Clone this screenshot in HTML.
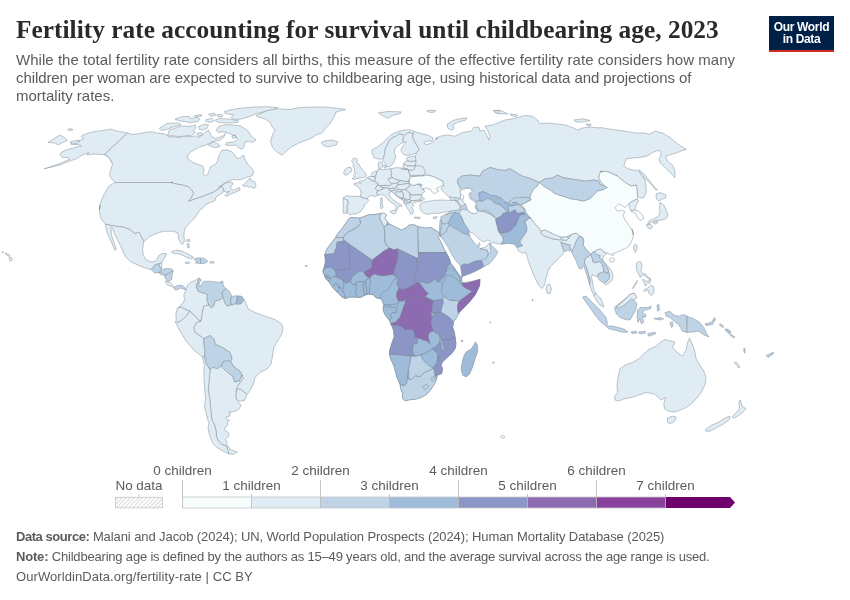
<!DOCTYPE html>
<html lang="en">
<head>
<meta charset="utf-8">
<title>Fertility rate accounting for survival until childbearing age, 2023</title>
<style>
html,body{margin:0;padding:0;background:#fff;}
body{width:850px;height:600px;position:relative;overflow:hidden;font-family:"Liberation Sans",sans-serif;color:#5b5b5b;}
.abs{position:absolute;white-space:nowrap;}
h1{position:absolute;left:16px;top:13.3px;margin:0;font-family:"Liberation Serif",serif;font-weight:bold;font-size:25.3px;line-height:32px;color:#2a2a2a;white-space:nowrap;letter-spacing:0.04px;}
.sub{left:16px;font-size:15px;line-height:18px;color:#5b5b5b;}
.logo{position:absolute;left:769px;top:16px;width:65px;height:33.5px;background:#002147;border-bottom:2.5px solid #d42b21;color:#fff;font-weight:bold;font-size:12px;line-height:12px;text-align:center;letter-spacing:-0.35px;}
.logo span{display:block;}
.foot{left:16px;font-size:13px;line-height:16px;color:#5b5b5b;}
.foot b{font-weight:bold;}
svg{position:absolute;left:0;top:0;}
.lab{font-family:"Liberation Sans",sans-serif;font-size:13.45px;fill:#5b5b5b;text-anchor:middle;}
</style>
</head>
<body>
<h1>Fertility rate accounting for survival until childbearing age, 2023</h1>
<div class="abs sub" style="top:51px;letter-spacing:0.035px">While the total fertility rate considers all births, this measure of the effective fertility rate considers how many</div>
<div class="abs sub" style="top:69px;letter-spacing:-0.09px">children per woman are expected to survive to childbearing age, using historical data and projections of</div>
<div class="abs sub" style="top:87px;">mortality rates.</div>
<div class="logo"><span style="margin-top:5px">Our World</span><span>in Data</span></div>

<svg width="850" height="600" viewBox="0 0 850 600">
<defs>
<pattern id="hatch" width="2.9" height="2.9" patternUnits="userSpaceOnUse" patternTransform="rotate(45)">
<rect width="2.9" height="2.9" fill="#fff"/><rect width="0.8" height="2.9" fill="#d2d2d2"/>
</pattern>
</defs>
<g id="map" stroke="#76828e" stroke-width="0.45" stroke-linejoin="round">
<path d="M370.6,178.2L378.8,170.6L391.8,170.0L409.4,170.0L416.5,165.3L424.7,168.8L425.9,174.1L410.6,177.1L409.4,184.1L421.2,186.5L421.2,194.7L417.6,200.0L410.6,201.8L405.9,201.8L398.8,196.5L392.9,192.4L389.4,190.0L378.8,190.0L375.3,185.3Z" fill="#e0ecf4"/>
<path d="M323.0,271.5L324.5,269.0L330.0,267.0L336.0,271.5L343.0,280.0L351.0,281.5L361.0,271.0L369.5,278.5L375.0,274.0L393.0,274.5L396.0,278.5L391.5,288.0L387.0,292.5L384.0,295.0L382.5,298.5L376.5,298.0L373.0,294.5L369.0,294.0L365.0,295.0L360.0,297.5L356.0,297.0L349.0,297.0L345.5,298.5L342.0,297.0L337.0,292.0L333.0,287.0L329.0,282.0L325.5,278.0Z" fill="#9ebcda"/>
<path d="M445.0,215.0L460.0,205.0L476.2,202.5L505.0,202.5L530.0,198.0L540.0,186.2L602.5,188.8L625.0,190.0L610.0,215.0L605.0,240.0L580.0,240.0L555.0,236.2L530.0,217.5L520.0,235.0L505.0,235.0L487.5,230.0L470.0,222.5L455.0,222.5Z" fill="#bfd3e6"/>
<path d="M127.5,133.0L117.5,131.2L110.5,129.0L106.2,130.0L97.5,131.2L90.0,132.5L83.2,135.0L81.2,136.2L83.8,139.0L78.8,140.5L71.2,142.5L70.8,144.2L78.8,144.5L81.2,145.8L75.0,147.5L67.5,149.5L61.8,152.0L60.0,155.0L62.5,157.5L67.5,157.5L70.0,159.0L60.0,163.5L44.2,168.8L60.0,165.0L71.2,160.5L76.2,159.0L81.2,155.8L88.8,152.5L87.0,155.0L93.8,154.0L101.2,154.5L104.5,154.5L108.0,156.5L110.5,160.0L112.5,163.8L114.5,165.5L113.2,161.2L110.5,157.0L107.0,155.0L104.5,154.5Z" fill="#e0ecf4"/>
<path d="M48.0,142.5L53.8,138.8L60.0,135.0L63.8,137.0L67.5,140.5L62.5,142.5L58.0,145.0L55.0,143.0ZM67.5,129.5L71.2,128.5L73.0,129.8L69.5,130.8ZM70.0,142.0L76.2,140.5L80.0,141.0L77.5,143.0L72.5,144.0Z" fill="#e0ecf4"/>
<path d="M127.5,133.0L104.5,154.5L108.0,156.5L110.5,160.0L112.5,163.8L111.2,168.8L109.5,173.8L110.5,177.5L115.0,182.5L172.5,182.5L170.9,182.3L173.4,183.5L181.8,184.9L188.4,186.9L191.8,190.2L193.5,193.5L190.1,199.4L188.4,201.6L195.1,198.9L203.5,196.2L213.5,192.2L218.5,188.9L220.2,187.2L221.5,186.2L223.5,189.0L224.0,191.2L226.2,192.2L229.5,191.5L227.0,193.2L225.0,195.5L226.0,196.5L229.0,195.0L232.0,193.5L236.0,192.0L240.0,190.0L239.5,187.5L235.5,189.5L233.0,190.0L230.5,188.5L231.0,186.0L233.0,184.0L232.5,182.5L229.0,182.0L224.0,184.0L220.0,186.5L218.5,187.8L222.0,185.0L225.0,182.5L229.0,181.0L233.0,179.5L238.0,180.0L243.0,179.0L247.0,177.0L252.0,176.0L254.0,172.0L251.9,168.5L247.8,164.3L245.2,160.1L243.6,155.1L240.2,157.8L236.9,158.5L235.2,155.1L231.9,151.8L226.9,149.8L221.9,150.1L220.2,153.4L218.5,156.8L217.7,161.0L215.2,164.3L210.2,167.1L209.3,170.2L207.7,174.3L204.8,176.2L203.1,173.5L204.3,169.3L202.6,166.0L197.6,164.3L191.8,161.8L188.4,159.3L187.3,156.0L190.1,152.6L195.1,149.3L200.1,146.8L206.0,145.1L211.0,142.6L215.2,140.9L220.2,140.1L223.5,137.6L225.5,133.4L222.7,135.9L218.5,137.6L215.2,138.4L211.8,136.7L210.2,133.4L208.5,130.1L206.0,131.7L201.8,135.1L198.5,137.6L196.0,135.9L190.1,136.7L184.3,135.9L179.3,137.6L175.9,136.7L169.2,137.1L167.6,135.1L163.4,133.7L156.7,133.1L151.7,131.7L145.0,132.6L140.0,133.4L132.5,134.5Z" fill="#e0ecf4"/>
<path d="M115.0,182.5L172.5,182.5L170.9,182.3L173.4,183.5L181.8,184.9L188.4,186.9L191.8,190.2L193.5,193.5L190.1,199.4L188.4,201.6L195.1,198.9L203.5,196.2L213.5,192.2L218.5,188.9L220.2,187.2L221.5,186.2L223.5,189.0L223.0,192.5L219.5,195.0L216.0,197.0L215.0,200.5L210.0,202.5L206.0,204.5L203.0,208.0L199.2,210.5L197.5,214.0L194.0,218.8L190.0,222.5L185.5,227.5L184.2,231.8L183.8,236.2L184.5,239.8L183.8,243.2L181.8,244.5L180.0,242.0L178.5,238.5L178.2,235.0L177.0,232.5L173.0,231.2L165.0,231.2L160.0,232.2L155.0,234.0L148.8,237.0L143.8,241.8L141.2,236.2L138.8,232.0L135.0,233.8L130.0,229.5L122.5,227.0L112.5,225.8L105.5,224.2L101.2,218.8L99.2,211.2L100.0,205.0L99.5,210.0L100.0,203.8L103.8,195.0L108.8,186.2Z" fill="#e0ecf4"/>
<path d="M105.5,224.2L112.5,225.8L122.5,227.0L130.0,229.5L135.0,233.8L138.8,232.0L141.2,236.2L143.8,241.8L142.5,248.8L143.2,255.0L146.2,260.0L151.2,262.0L155.5,261.2L157.5,258.8L158.8,255.5L162.5,253.5L166.5,253.5L165.0,257.5L162.5,261.2L161.0,264.0L158.8,263.8L155.5,264.5L151.2,269.5L145.0,268.0L137.5,265.0L130.0,261.2L125.0,256.2L122.5,250.0L118.8,242.5L115.0,235.0L112.5,228.0L111.0,227.0L111.5,235.0L114.0,242.5L116.5,249.0L115.0,250.5L111.2,241.8L108.0,235.0L106.2,229.0Z" fill="#e0ecf4"/>
<path d="M151.2,269.5L155.5,264.5L158.8,263.8L160.0,267.0L161.5,270.0L159.0,272.5L154.5,273.0Z" fill="#bfd3e6"/>
<path d="M159.0,263.8L162.0,262.5L161.5,269.0L160.0,267.0Z" fill="#e0ecf4"/>
<path d="M159.0,272.5L162.5,273.0L164.5,275.0L160.5,274.8Z" fill="#e0ecf4"/>
<path d="M161.5,270.0L165.0,268.5L171.5,268.8L173.2,270.5L170.0,272.5L166.2,275.0L164.5,275.0L162.5,273.0L159.0,272.5Z" fill="#bfd3e6"/>
<path d="M164.5,275.0L166.2,275.0L170.0,272.5L173.2,270.5L172.2,275.0L171.5,280.0L168.0,281.5L165.0,278.2Z" fill="#bfd3e6"/>
<path d="M165.0,281.0L168.0,281.5L171.5,283.8L174.0,287.5L171.5,286.5L167.5,285.0Z" fill="#e0ecf4"/>
<path d="M174.0,287.5L176.5,285.8L181.2,285.0L184.5,287.0L185.8,290.2L183.0,288.8L180.0,288.0L177.0,290.0L174.5,289.5Z" fill="#bfd3e6"/>
<path d="M171.2,252.0L176.2,250.0L182.5,251.2L188.8,254.5L193.8,257.5L191.2,259.0L185.0,256.5L178.8,253.8L173.8,253.8Z" fill="#e0ecf4"/>
<path d="M185.0,262.5L188.8,261.8L190.0,263.0L186.2,264.0Z" fill="#e0ecf4"/>
<path d="M193.8,259.5L196.2,258.0L200.2,258.0L200.8,263.5L195.0,263.0L197.5,261.2Z" fill="#bfd3e6"/>
<path d="M200.2,258.0L203.8,258.2L207.8,261.2L204.5,263.5L200.8,263.5Z" fill="#bfd3e6"/>
<path d="M210.0,261.8L213.8,261.5L214.0,263.0L210.2,263.2Z" fill="#e0ecf4"/>
<path d="M186.2,240.0L189.5,239.2L190.0,241.2L187.0,241.5ZM187.0,243.8L189.0,243.5L189.2,248.0L187.5,247.5Z" fill="#e0ecf4"/>
<path d="M221.0,281.5L223.0,281.2L223.0,283.2L221.0,283.2Z" fill="#e0ecf4"/>
<path d="M185.8,290.2L187.5,285.0L191.2,282.0L195.0,280.5L199.2,278.0L197.5,282.5L196.2,286.2L198.0,291.2L203.8,293.0L207.5,294.5L207.0,300.0L208.8,305.0L203.8,306.2L202.5,311.2L201.8,317.5L200.0,321.5L195.0,316.2L190.0,311.2L186.2,310.0L181.2,307.0L177.5,308.0L181.2,305.0L184.5,300.0L183.8,295.0Z" fill="#e0ecf4"/>
<path d="M197.5,282.5L199.2,278.0L201.5,280.0L198.0,284.5L200.0,286.5L203.8,281.2L210.0,281.2L216.2,282.0L222.5,282.5L223.8,286.2L226.2,288.8L222.0,292.5L223.0,297.5L220.0,300.0L215.0,301.2L213.8,306.2L211.2,308.0L208.8,305.0L207.0,300.0L207.5,294.5L203.8,293.0L198.0,291.2L196.2,286.2Z" fill="#bfd3e6"/>
<path d="M226.2,288.8L229.5,291.2L231.8,296.2L230.5,300.0L231.2,305.0L227.0,306.2L224.5,302.5L223.0,297.5L222.0,292.5Z" fill="#bfd3e6"/>
<path d="M231.8,296.2L237.5,295.8L237.0,300.0L236.2,303.8L231.2,305.0L230.5,300.0Z" fill="#bfd3e6"/>
<path d="M237.5,295.8L241.8,296.2L244.0,299.5L241.2,303.8L237.5,304.5L236.2,303.8L237.0,300.0Z" fill="#9ebcda"/>
<path d="M244.0,299.5L246.2,303.8L248.0,308.8L255.0,312.5L265.0,316.2L275.0,319.5L281.2,323.8L283.0,327.5L282.0,333.8L277.5,341.2L273.8,347.5L272.5,356.2L271.2,363.8L267.5,368.8L260.0,372.5L255.0,377.5L253.0,385.0L248.8,392.5L247.0,394.5L240.0,388.8L236.2,390.0L237.5,386.2L243.0,378.8L242.0,375.0L240.0,371.2L233.8,367.0L230.5,361.2L232.0,358.8L230.0,352.5L222.5,347.5L215.5,344.5L213.8,338.8L210.0,335.5L203.8,338.8L202.5,337.5L198.8,335.0L195.0,332.5L193.8,327.5L196.2,323.0L201.2,320.5L201.8,317.5L202.5,311.2L203.8,306.2L208.8,305.0L211.2,308.0L213.8,306.2L215.0,301.2L220.0,300.0L223.0,297.5L224.5,302.5L227.0,306.2L231.2,305.0L236.2,303.8L237.5,304.5L241.2,303.8Z" fill="#e0ecf4"/>
<path d="M177.5,308.0L181.2,307.0L186.2,310.0L190.0,311.2L186.5,316.2L182.5,319.5L178.8,322.5L176.2,319.5L175.8,313.8Z" fill="#e0ecf4"/>
<path d="M178.8,322.5L182.5,319.5L186.5,316.2L190.0,311.2L195.0,316.2L200.0,321.5L201.2,320.5L196.2,323.0L193.8,327.5L195.0,332.5L198.8,335.0L202.5,337.5L203.8,338.8L203.8,343.8L205.0,350.0L204.5,357.0L202.5,357.0L193.8,350.0L186.2,341.2L180.0,331.2L175.0,321.2Z" fill="#e0ecf4"/>
<path d="M203.8,338.8L210.0,335.5L213.8,338.8L215.5,344.5L222.5,347.5L230.0,352.5L232.0,358.8L230.5,361.2L223.8,361.2L221.2,366.2L217.5,368.8L212.5,367.5L210.0,370.0L206.2,363.8L204.5,357.5L205.0,350.0L203.8,343.8Z" fill="#bfd3e6"/>
<path d="M223.8,361.2L230.5,361.2L233.8,367.0L240.0,371.2L242.0,375.0L239.5,381.2L234.5,382.0L232.5,376.2L227.5,372.5L222.5,367.5L221.2,366.2Z" fill="#bfd3e6"/>
<path d="M236.2,390.0L240.0,388.8L247.0,394.5L244.5,400.5L238.8,401.2L235.8,398.0Z" fill="#e0ecf4"/>
<path d="M210.0,370.0L212.5,367.5L217.5,368.8L221.2,366.2L222.5,367.5L227.5,372.5L232.5,376.2L234.5,382.0L239.5,381.2L242.0,375.0L243.0,378.8L237.5,386.2L236.2,390.0L235.8,398.0L236.7,399.9L238.1,402.0L240.9,404.9L239.5,408.4L235.9,411.2L228.9,412.0L230.3,412.7L229.6,416.2L226.0,416.9L226.0,418.3L229.6,420.5L227.5,421.9L227.5,425.4L225.0,427.5L224.6,430.4L228.2,432.5L228.9,436.0L225.3,439.6L227.5,442.4L226.0,445.2L228.2,445.9L230.3,449.5L233.8,450.9L237.4,452.0L233.1,454.4L228.9,453.7L226.7,446.7L225.3,445.5L221.8,444.5L218.2,441.0L216.5,436.7L216.1,431.1L214.7,425.4L211.9,419.7L211.2,414.1L210.5,407.0L209.7,398.5L208.3,390.0Z" fill="#e0ecf4"/>
<path d="M202.5,357.0L204.5,357.0L206.2,363.8L210.0,370.0L208.3,390.0L209.7,398.5L210.5,407.0L211.2,414.1L211.9,419.7L214.7,425.4L216.1,431.1L216.5,436.7L218.2,441.0L221.8,444.5L225.3,445.5L226.7,446.7L228.9,453.7L222.5,450.9L217.5,448.1L213.3,443.8L210.5,438.2L208.8,432.5L208.0,426.8L209.0,422.6L207.6,419.7L206.2,412.7L204.4,407.0L205.5,398.5L204.8,390.0L203.8,375.0L204.2,365.0Z" fill="#e0ecf4"/>
<path d="M159.2,128.4L166.7,123.4L179.3,123.0L180.9,125.0L173.4,126.7L165.1,130.1L160.9,130.1ZM167.6,135.9L169.2,130.1L174.2,128.4L181.8,125.9L190.1,126.4L195.1,125.0L196.0,127.6L193.5,130.1L195.1,132.6L191.8,135.1L185.1,135.9L178.4,136.7L173.4,135.9ZM198.5,126.7L204.3,124.2L208.5,125.0L206.8,128.4L202.6,130.1L199.3,129.2ZM196.8,133.4L201.8,132.6L202.6,135.1L198.5,136.4ZM175.1,119.2L181.8,116.7L189.3,116.4L190.1,118.4L196.8,117.5L200.1,119.2L197.6,121.7L190.1,122.5L185.1,121.7L180.1,120.9ZM194.3,115.9L201.0,114.2L201.8,115.9L196.0,117.0ZM205.2,120.0L211.8,118.4L214.3,120.9L210.2,122.5L206.0,121.7ZM215.2,120.0L219.4,118.4L230.2,119.2L238.6,120.9L237.7,122.5L226.9,123.0L220.2,122.5L216.8,121.7ZM224.4,111.7L231.0,109.7L240.2,108.3L253.6,107.0L267.0,106.7L277.8,107.5L272.0,110.0L263.6,111.7L255.3,114.2L246.9,117.5L240.2,119.2L235.2,119.7L231.0,117.5L233.6,115.0L228.5,114.2L225.2,113.4ZM208.5,114.2L214.3,113.0L216.0,115.0L211.0,116.4ZM216.8,115.0L221.9,114.2L222.7,116.4L218.5,117.0ZM216.0,130.1L218.5,126.7L225.2,124.7L233.6,125.0L240.2,125.9L244.4,128.4L248.6,131.7L251.1,135.9L256.1,140.1L251.9,142.6L248.6,140.9L245.2,141.8L244.4,145.9L241.9,149.3L238.6,147.6L236.1,145.1L230.2,145.6L225.2,144.8L226.9,142.6L233.6,142.1L237.7,139.2L235.2,135.9L231.0,134.2L226.9,132.6L221.9,131.7L218.5,132.6ZM208.5,145.1L213.5,141.8L218.5,144.3L220.2,146.4L216.0,147.6L211.8,146.8ZM231.9,135.9L235.2,135.1L236.1,137.6L232.7,138.4ZM242.5,185.5L245.5,183.0L249.0,179.0L250.5,178.0L251.0,180.5L254.5,181.5L256.0,185.0L254.5,188.5L252.5,187.5L250.0,186.5L249.0,187.5L247.0,186.0L244.5,186.5Z" fill="#e0ecf4"/>
<path d="M256.2,115.5L267.5,110.5L277.5,108.8L290.0,109.5L300.0,107.5L312.5,107.0L325.0,107.0L335.0,108.0L345.5,109.5L336.2,112.0L333.8,117.5L330.0,123.8L325.0,128.8L322.5,132.5L316.2,135.0L310.0,138.8L300.0,142.5L292.5,146.2L286.2,151.2L282.0,155.2L277.5,152.5L272.5,147.5L270.5,141.2L272.5,135.0L275.0,130.0L272.5,127.5L270.0,122.5L265.0,118.8L258.0,117.0Z" fill="#e0ecf4"/>
<path d="M321.2,142.5L325.0,140.8L332.5,140.0L338.0,142.0L336.2,145.0L328.8,146.8L323.8,145.8Z" fill="#e0ecf4"/>
<path d="M378.6,112.8L388.0,111.5L401.2,111.9L400.2,113.8L394.6,114.7L390.8,116.6L388.0,118.5L384.2,116.6L380.5,114.7ZM447.3,124.1L452.9,120.4L460.5,118.5L467.1,117.9L465.2,120.4L457.6,122.2L452.9,125.1L453.9,128.8L451.1,130.3L447.7,127.9ZM426.6,110.9L431.3,110.2L436.0,110.8L434.1,112.3L429.4,112.3ZM493.4,110.9L500.0,110.0L500.0,113.8L496.2,113.0Z" fill="#e0ecf4"/>
<path d="M378.2,159.1L374.1,157.9L371.8,152.6L372.4,149.7L377.6,146.8L382.9,142.6L387.6,137.9L391.8,134.4L396.5,132.1L402.4,130.3L408.2,129.7L412.4,130.3L414.7,132.1L412.9,133.8L410.6,132.6L407.6,132.6L405.3,135.0L401.8,134.4L398.8,133.8L397.6,135.6L392.9,137.4L389.4,140.3L387.6,144.4L385.3,148.5L384.7,153.8L383.5,157.4L381.8,159.1Z" fill="#e0ecf4"/>
<path d="M383.5,157.4L384.7,153.8L385.3,148.5L387.6,144.4L389.4,140.3L392.9,137.4L397.6,135.6L398.8,133.8L401.8,134.4L403.5,136.8L402.9,140.3L404.7,142.3L401.2,143.2L398.2,145.6L395.3,148.5L394.1,152.6L395.9,156.2L394.7,160.3L392.4,164.4L389.4,166.8L386.5,166.2L384.7,162.6L382.9,160.3Z" fill="#e0ecf4"/>
<path d="M405.3,135.0L407.6,132.6L410.6,132.6L412.9,133.8L412.4,136.8L414.1,140.9L416.5,145.0L419.4,149.1L416.5,152.6L412.9,154.4L407.6,155.6L403.5,154.4L401.2,151.5L401.2,148.5L404.1,144.4L406.1,142.3L404.7,142.3L402.9,140.3L403.5,136.8Z" fill="#e0ecf4"/>
<path d="M406.5,157.9L410.0,156.8L415.3,156.4L416.5,159.1L415.3,161.1L410.6,161.5L407.1,160.9Z" fill="#e0ecf4"/>
<path d="M403.5,163.8L405.3,161.5L407.1,160.9L410.6,161.5L415.3,161.1L417.6,163.8L415.3,165.6L410.6,166.2L406.5,165.6Z" fill="#e0ecf4"/>
<path d="M402.9,166.8L403.5,163.8L406.5,165.6L410.6,166.2L415.3,165.6L414.7,168.5L412.4,170.3L408.2,170.3L405.3,168.5Z" fill="#e0ecf4"/>
<path d="M343.5,172.9L344.7,170.0L347.1,167.6L350.6,167.1L351.8,169.4L351.2,171.8L348.2,174.1L345.3,175.3Z" fill="#e0ecf4"/>
<path d="M351.8,160.0L353.5,158.2L356.5,158.5L357.6,160.6L356.5,162.4L358.8,164.1L360.6,167.6L362.9,170.0L365.3,172.9L366.5,175.3L365.3,177.1L362.4,177.6L358.8,178.2L354.7,179.2L351.8,178.8L354.7,177.1L353.5,175.3L355.9,173.5L354.1,172.4L354.7,168.8L352.9,166.5L353.5,163.5L351.8,161.8Z" fill="#e0ecf4"/>
<path d="M353.5,184.1L357.6,182.4L360.6,183.5L359.4,181.2L363.5,180.6L367.6,177.6L369.4,178.8L372.4,180.8L375.3,181.8L378.2,183.5L376.5,186.5L375.3,188.8L377.6,190.6L376.5,192.9L377.9,195.3L374.7,196.5L371.2,195.3L368.2,197.1L367.6,198.8L363.5,198.2L360.0,196.5L361.2,192.4L359.4,188.2L356.5,185.9ZM380.6,198.2L382.1,197.6L382.4,201.8L381.2,202.9L380.6,200.6Z" fill="#e0ecf4"/>
<path d="M343.5,197.6L345.9,195.9L351.8,196.2L360.0,196.5L363.5,198.2L367.6,198.8L368.8,200.6L365.3,204.1L363.5,207.6L361.2,211.2L357.6,213.5L352.9,214.1L350.0,214.7L348.2,213.5L346.5,212.9L347.1,210.0L347.1,206.5L348.2,202.9L347.6,200.0L345.3,199.4Z" fill="#e0ecf4"/>
<path d="M343.5,197.6L345.3,199.4L347.6,200.0L348.2,202.9L347.1,206.5L347.1,210.0L346.5,212.9L343.5,213.5L342.9,210.0L343.5,205.3L342.9,201.8Z" fill="#e0ecf4"/>
<path d="M371.2,175.3L372.4,172.4L375.9,171.2L377.1,171.8L375.9,175.3L374.1,176.5L372.4,176.5Z" fill="#e0ecf4"/>
<path d="M367.6,177.6L369.4,176.5L372.4,176.5L374.1,176.5L375.3,178.8L374.7,181.2L372.4,180.8L369.4,178.8Z" fill="#e0ecf4"/>
<path d="M377.1,171.8L377.6,169.4L380.6,168.8L381.8,170.0L385.3,169.4L390.6,168.8L391.8,172.9L391.2,175.3L392.4,177.6L388.2,178.8L389.4,181.2L391.8,184.1L389.4,185.9L385.3,185.3L380.6,185.9L378.2,185.3L378.2,183.5L375.3,181.8L374.7,181.2L375.3,178.8L375.9,175.3Z" fill="#e0ecf4"/>
<path d="M378.2,162.9L380.6,161.2L382.4,162.4L382.9,165.3L381.8,167.6L380.6,168.8L378.8,168.2L378.2,165.3ZM383.5,165.9L385.9,165.3L386.5,167.6L384.5,168.2Z" fill="#e0ecf4"/>
<path d="M390.6,168.8L396.5,167.6L402.9,168.2L408.2,169.4L409.4,173.5L410.6,177.1L408.8,180.6L405.9,181.8L401.8,180.8L397.6,180.0L395.3,179.2L392.4,177.6L391.2,175.3L391.8,172.9Z" fill="#e0ecf4"/>
<path d="M388.2,178.8L392.4,177.6L395.3,179.2L397.6,180.0L400.0,181.2L397.6,182.9L393.5,183.5L391.8,184.1L389.4,181.2Z" fill="#e0ecf4"/>
<path d="M397.6,182.9L400.0,181.2L401.8,180.8L405.9,181.8L408.8,181.2L408.2,183.5L404.1,184.1L400.0,184.7L397.6,184.7Z" fill="#e0ecf4"/>
<path d="M380.6,185.9L385.3,185.3L389.4,185.9L391.8,184.1L393.5,183.5L397.6,182.9L397.6,184.7L396.5,187.1L394.1,188.2L389.4,188.8L385.9,187.6L382.9,187.6L380.6,187.1Z" fill="#e0ecf4"/>
<path d="M376.5,186.5L378.2,185.3L380.6,185.9L380.6,187.1L382.9,187.6L382.4,189.4L379.4,190.6L377.6,190.6L375.3,188.8Z" fill="#e0ecf4"/>
<path d="M396.5,187.1L397.6,184.7L400.0,184.7L404.1,184.1L408.2,183.5L410.0,184.7L408.2,187.6L405.3,189.4L401.2,190.0L398.2,189.4Z" fill="#e0ecf4"/>
<path d="M389.4,188.8L394.1,188.2L394.7,190.0L391.8,191.2L389.4,190.6Z" fill="#e0ecf4"/>
<path d="M391.8,191.2L394.7,190.0L398.2,189.4L401.2,190.0L402.4,191.8L398.8,192.1L395.9,191.8L395.3,193.5L397.6,195.9L400.0,197.6L402.9,200.0L398.8,197.6L395.3,195.3L392.9,192.9Z" fill="#e0ecf4"/>
<path d="M395.9,191.8L398.8,192.1L402.4,191.8L403.5,194.1L402.9,196.5L401.8,198.2L400.0,197.6L397.6,195.9L395.3,193.5Z" fill="#e0ecf4"/>
<path d="M401.2,190.0L405.3,189.4L407.6,191.2L410.0,192.9L409.4,195.3L410.6,197.1L409.4,199.4L407.6,200.0L405.9,199.4L404.1,198.2L403.5,196.5L403.5,194.1L402.4,191.8Z" fill="#e0ecf4"/>
<path d="M401.8,198.2L404.1,198.2L405.9,199.4L407.6,200.0L409.4,199.4L411.2,200.6L410.6,202.4L408.2,203.5L406.5,202.9L405.9,205.3L404.1,203.5L403.5,201.2L402.9,200.0Z" fill="#e0ecf4"/>
<path d="M408.2,187.6L410.0,184.7L414.1,185.3L418.2,184.1L421.2,185.9L422.4,188.8L424.1,190.0L424.7,191.8L422.4,192.9L421.8,195.3L417.6,194.7L413.5,195.3L410.6,194.7L410.0,192.9L407.6,191.2L405.3,189.4Z" fill="#e0ecf4"/>
<path d="M418.2,184.1L420.6,184.7L422.9,187.6L424.1,190.0L422.4,188.8L421.2,185.9Z" fill="#e0ecf4"/>
<path d="M410.6,194.7L413.5,195.3L417.6,194.7L421.8,195.3L421.2,198.2L419.4,200.0L415.3,200.6L412.4,200.6L411.2,200.6L409.4,199.4L410.6,197.1Z" fill="#e0ecf4"/>
<path d="M405.9,205.3L406.5,202.9L408.2,203.5L410.6,202.4L411.2,200.6L415.3,200.6L419.4,200.0L420.6,201.2L417.6,201.8L414.7,202.4L412.4,203.5L413.5,205.9L411.8,207.6L413.5,210.0L412.9,213.5L410.6,214.1L409.4,211.2L407.6,208.8L406.5,207.1ZM414.1,217.1L420.0,217.3L420.0,218.5L414.7,218.2Z" fill="#e0ecf4"/>
<path d="M377.9,195.3L376.5,192.9L377.6,190.6L379.4,190.6L382.4,189.4L385.9,187.6L389.4,188.8L389.4,190.6L391.8,191.2L390.6,192.4L388.8,193.5L390.0,196.5L392.9,199.4L396.5,202.4L400.0,204.1L402.4,205.9L401.2,206.5L398.8,205.9L398.2,208.2L396.5,210.6L395.3,209.4L396.2,207.1L394.7,204.7L391.8,202.9L388.8,200.6L386.5,197.6L384.1,195.3L380.6,194.7ZM390.0,211.2L395.3,210.0L396.5,211.2L394.7,214.1L391.8,213.5ZM380.4,203.5L382.4,203.2L382.9,207.6L381.2,208.8L380.4,206.5Z" fill="#e0ecf4"/>
<path d="M401.2,168.8L402.9,168.2L408.2,169.4L404.1,169.8Z" fill="#e0ecf4"/>
<path d="M408.2,169.4L409.4,170.6L412.4,170.2L414.7,168.6L415.3,165.5L417.6,164.7L421.2,165.3L424.1,167.6L426.5,171.8L425.9,174.1L422.4,175.3L416.5,175.3L410.6,175.6L409.4,173.5Z" fill="#e0ecf4"/>
<path d="M409.3,182.5L410.0,176.8L422.8,175.9L425.6,174.9L432.2,175.9L437.9,178.7L443.2,181.5L443.5,185.3L438.8,187.2L436.0,189.1L438.8,190.9L434.1,193.8L431.3,190.9L430.4,189.1L425.6,188.1L422.8,189.1L420.9,187.2L421.9,184.4L418.1,183.8L414.4,185.3L410.6,184.9Z" fill="#f7fcfd"/>
<path d="M419.4,201.3L421.9,197.5L424.7,198.5L422.8,200.4ZM420.0,204.1L422.8,202.2L428.5,201.3L434.1,200.4L441.6,200.0L449.2,200.4L454.8,200.0L458.6,202.2L460.5,206.0L459.5,209.8L452.9,210.7L447.3,211.6L442.6,212.6L437.9,213.5L432.2,213.2L427.5,214.5L422.8,212.6L420.0,208.8Z" fill="#e0ecf4"/>
<path d="M433.2,217.3L436.9,216.4L436.4,218.2L433.7,218.8Z" fill="#e0ecf4"/>
<path d="M350.6,217.5L359.8,218.0L368.1,215.0L376.5,214.2L384.0,213.0L386.5,215.0L384.8,218.4L387.3,221.7L389.8,224.2L394.8,226.7L401.5,230.1L406.5,227.6L409.0,225.0L414.1,224.7L418.2,226.7L424.9,228.1L431.6,227.6L437.4,231.7L440.0,232.9L438.4,237.6L441.5,242.9L444.0,248.9L446.1,252.6L450.0,260.0L450.5,263.0L453.0,266.0L456.5,271.0L460.0,276.0L462.0,277.5L460.9,281.9L465.1,282.7L473.4,281.0L480.1,279.4L479.3,286.0L475.9,293.6L475.2,295.0L470.2,300.9L464.4,306.7L458.5,313.4L456.0,318.4L453.5,321.8L452.7,327.6L454.3,331.8L455.2,337.6L456.0,343.5L455.2,348.5L451.8,353.5L446.8,357.7L442.6,361.9L441.0,365.2L442.6,368.5L441.8,373.6L437.6,375.1L436.5,379.7L434.3,384.2L431.0,389.3L426.8,394.3L420.9,397.6L415.1,399.3L409.2,399.8L405.1,401.0L402.6,398.4L402.6,393.4L400.9,389.3L400.0,384.2L396.7,376.7L394.2,366.7L390.9,359.2L389.2,354.2L389.7,350.2L391.7,343.5L394.2,336.8L393.4,330.1L391.7,325.4L389.2,320.1L385.8,315.9L383.3,310.9L383.3,306.7L383.3,303.4L381.7,300.0L380.0,296.7L384.0,302.0L382.5,298.5L376.5,298.0L373.0,294.5L369.0,294.0L365.0,295.0L360.0,297.5L356.0,297.0L349.0,297.0L345.5,298.5L342.0,297.0L337.0,292.0L333.0,287.0L329.0,282.0L325.5,278.0L323.0,271.5L325.5,261.8L324.7,254.6L326.4,250.1L329.7,245.1L333.0,240.9L335.5,237.6L338.0,233.4L342.2,228.4L345.6,223.4L348.9,218.7Z" fill="#9ebcda"/>
<path d="M350.6,217.5L359.8,218.0L360.6,223.4L358.1,226.7L353.9,229.2L348.9,231.7L344.7,235.1L343.4,237.6L335.5,237.6L338.0,233.4L342.2,228.4L345.6,223.4L348.9,218.7Z" fill="#bfd3e6"/>
<path d="M335.5,237.6L343.4,237.6L343.4,241.4L337.2,242.1L336.4,247.6L333.9,253.8L324.7,254.6L326.4,250.1L329.7,245.1L333.0,240.9Z" fill="#bfd3e6"/>
<path d="M324.7,254.6L333.9,253.8L336.4,247.6L337.2,242.1L343.4,241.4L343.4,239.2L348.9,243.8L349.4,255.1L350.1,269.3L336.4,270.2L335.5,271.5L333.0,269.0L330.0,267.0L327.0,267.5L324.5,269.0L323.0,271.5L325.5,261.8Z" fill="#8c96c6"/>
<path d="M348.9,243.8L372.3,260.1L371.8,267.6L364.0,272.5L361.0,271.0L358.0,272.0L354.0,275.0L351.5,278.0L350.5,281.5L348.0,282.5L345.5,283.0L343.0,280.0L339.5,278.5L336.5,277.0L335.5,276.5L336.0,274.5L335.5,271.5L336.4,270.2L350.1,269.3L349.4,255.1Z" fill="#8c96c6"/>
<path d="M359.8,218.0L368.1,215.0L376.5,214.2L380.6,213.4L379.8,218.4L382.3,223.4L384.0,226.7L384.8,232.6L384.8,240.9L386.5,245.1L389.8,248.1L384.0,250.9L372.3,260.1L348.9,243.8L343.4,239.2L343.4,237.6L344.7,235.1L348.9,231.7L353.9,229.2L358.1,226.7L360.6,223.4Z" fill="#bfd3e6"/>
<path d="M380.6,213.4L384.0,213.0L386.5,215.0L384.8,218.4L387.3,221.7L386.5,225.0L384.0,226.7L382.3,223.4L379.8,218.4Z" fill="#e0ecf4"/>
<path d="M384.0,226.7L386.5,225.0L389.8,224.2L394.8,226.7L401.5,230.1L406.5,227.6L409.0,225.0L414.1,224.7L418.2,226.7L417.9,230.1L418.2,255.1L419.1,257.6L416.6,258.1L397.4,248.8L394.0,250.1L389.8,248.1L386.5,245.1L384.8,240.9L384.8,232.6Z" fill="#bfd3e6"/>
<path d="M418.2,226.7L424.9,228.1L431.6,227.6L434.9,230.1L437.4,231.7L440.0,232.9L438.9,236.1L438.4,237.6L441.5,242.9L444.0,248.9L446.1,252.6L418.6,252.6L417.9,230.1Z" fill="#bfd3e6"/>
<path d="M372.3,260.1L384.0,250.9L389.8,248.1L394.0,250.1L397.4,248.8L398.2,255.1L397.4,261.8L394.8,268.5L394.0,273.5L395.5,276.5L393.0,274.5L389.0,275.0L384.0,276.0L379.0,275.5L375.0,274.0L372.0,275.5L369.5,278.5L368.5,277.5L365.5,275.5L364.0,272.5L371.8,267.6Z" fill="#8c6bb1"/>
<path d="M397.4,248.8L416.6,258.1L417.4,271.0L414.9,275.2L414.1,280.2L416.6,282.7L412.4,285.2L408.2,287.7L403.2,289.4L399.0,288.5L396.5,283.5L398.2,279.3L395.7,275.2L394.0,273.5L394.8,268.5L397.4,261.8L398.2,255.1Z" fill="#8c96c6"/>
<path d="M418.6,252.6L446.1,252.6L447.0,253.9L450.0,260.0L450.5,263.0L447.5,266.8L445.8,271.8L444.1,276.8L440.8,279.3L438.3,282.7L434.9,279.3L431.6,281.8L426.6,283.5L422.4,281.8L419.1,282.7L416.6,282.7L414.1,280.2L414.9,275.2L417.4,271.0L416.6,258.1L419.1,257.6Z" fill="#8c96c6"/>
<path d="M323.0,271.5L324.5,269.0L327.0,267.5L330.0,267.0L333.0,269.0L335.5,271.5L336.0,274.5L335.5,276.5L331.0,277.5L326.0,277.5L325.0,276.5L329.0,275.5L325.5,275.0L324.0,274.0Z" fill="#9ebcda"/>
<path d="M325.0,277.5L329.0,277.8L330.5,279.5L328.5,280.5L326.5,279.5Z" fill="#9ebcda"/>
<path d="M329.0,277.8L335.5,276.5L336.5,277.0L339.5,278.5L343.0,280.0L344.2,284.0L343.5,287.0L342.5,289.5L341.0,288.0L339.5,285.5L337.5,284.5L335.5,283.5L334.0,285.0L332.5,287.5L330.5,284.5L328.5,280.5L330.5,279.5Z" fill="#9ebcda"/>
<path d="M332.5,287.5L334.0,285.0L335.5,283.5L337.5,284.5L338.5,287.0L339.5,288.5L337.0,292.0L334.5,290.0Z" fill="#9ebcda"/>
<path d="M337.0,292.0L339.5,288.5L338.5,287.0L341.0,288.0L342.5,289.5L344.2,293.5L345.2,297.5L345.5,298.5L342.0,297.0Z" fill="#9ebcda"/>
<path d="M343.0,280.0L345.5,283.0L348.0,282.5L350.5,281.5L352.0,284.0L356.0,284.5L356.5,288.0L355.5,292.0L356.5,297.0L349.0,297.0L345.5,298.5L345.2,297.5L344.2,293.5L342.5,289.5L343.5,287.0L344.2,284.0Z" fill="#9ebcda"/>
<path d="M350.5,281.5L351.5,278.0L354.0,275.0L358.0,272.0L361.0,271.0L364.0,272.5L365.5,275.5L368.5,277.5L367.0,279.5L364.5,281.0L362.0,281.5L356.5,281.8L356.0,284.5L352.0,284.0Z" fill="#9ebcda"/>
<path d="M356.0,284.5L356.5,281.8L362.0,281.5L363.5,282.5L363.0,287.0L364.2,292.0L365.0,295.0L360.0,297.5L356.5,297.0L355.5,292.0L356.5,288.0Z" fill="#9ebcda"/>
<path d="M363.5,282.5L365.5,282.0L365.8,285.0L366.5,289.0L367.0,294.0L365.0,295.0L364.2,292.0L363.0,287.0Z" fill="#9ebcda"/>
<path d="M365.5,282.0L367.0,279.5L369.5,278.5L370.5,280.5L370.0,285.0L369.5,289.0L369.5,293.8L367.0,294.0L366.5,289.0L365.8,285.0Z" fill="#9ebcda"/>
<path d="M369.5,278.5L372.0,275.5L375.0,274.0L379.0,275.5L384.0,276.0L389.0,275.0L393.0,274.5L395.5,276.5L396.0,278.5L393.5,283.0L391.5,288.0L390.0,291.5L387.0,292.5L384.0,295.0L382.5,298.5L376.5,298.0L373.0,294.5L369.5,293.8L369.5,289.0L370.0,285.0L370.5,280.5Z" fill="#9ebcda"/>
<path d="M380.0,296.7L383.3,291.7L387.5,290.0L390.9,285.0L393.4,280.0L396.2,279.3L395.7,275.2L398.2,279.3L396.5,283.5L399.0,288.5L396.7,292.5L396.7,296.7L398.4,300.9L400.0,300.9L398.4,303.4L390.0,305.1L385.8,305.1L383.3,303.4L381.7,300.0Z" fill="#9ebcda"/>
<path d="M399.0,288.5L403.2,289.4L408.2,287.7L412.4,285.2L416.6,282.7L419.1,282.7L421.6,285.2L424.9,290.2L428.3,293.5L425.1,296.7L419.3,297.5L413.4,298.4L408.4,297.5L405.1,300.0L401.7,301.7L398.4,300.9L396.7,296.7L396.7,292.5Z" fill="#8c6bb1"/>
<path d="M419.1,282.7L422.4,281.8L426.6,283.5L431.6,281.8L434.9,279.3L438.3,282.7L440.8,279.3L441.6,283.5L442.5,286.9L445.0,290.2L447.5,293.5L442.6,299.2L437.6,300.0L433.8,300.9L430.1,299.2L425.1,296.7L428.3,293.5L424.9,290.2L421.6,285.2Z" fill="#9ebcda"/>
<path d="M405.1,300.0L408.4,297.5L413.4,298.4L419.3,297.5L425.1,296.7L430.1,299.2L433.8,300.9L432.6,305.1L432.1,310.1L431.0,313.4L431.8,318.4L431.0,323.4L432.6,328.4L433.5,331.0L429.3,332.6L428.4,336.8L430.1,344.3L426.8,341.0L422.6,340.1L419.3,338.5L415.1,337.6L413.4,330.1L409.2,329.3L405.1,330.1L401.7,326.8L396.7,325.1L391.7,325.4L390.9,323.4L395.9,321.8L400.0,316.8L401.7,311.7L403.4,306.7L405.1,302.6Z" fill="#8c6bb1"/>
<path d="M391.7,325.4L396.7,325.1L401.7,326.8L405.1,330.1L409.2,329.3L413.4,330.1L415.1,337.6L417.6,339.3L417.1,343.5L413.4,344.3L412.6,350.2L413.4,354.3L415.9,356.0L410.1,356.0L403.4,355.2L396.7,354.3L390.0,354.3L389.7,350.2L391.7,343.5L394.2,336.8L393.4,330.1ZM390.4,322.6L392.0,321.8L392.5,324.3L390.9,324.8Z" fill="#8c96c6"/>
<path d="M390.9,323.4L389.2,320.1L391.7,317.6L390.0,315.1L392.5,312.6L395.9,312.6L396.7,308.4L398.4,303.4L400.0,300.9L401.7,301.7L405.1,300.0L405.1,302.6L403.4,306.7L401.7,311.7L400.0,316.8L395.9,321.8Z" fill="#9ebcda"/>
<path d="M383.3,306.7L385.8,305.1L390.0,305.1L390.9,307.6L395.9,307.6L396.7,308.4L395.9,312.6L392.5,312.6L390.0,315.1L391.7,317.6L389.2,320.1L385.8,315.9L383.3,310.9Z" fill="#9ebcda"/>
<path d="M385.0,304.7L389.7,304.7L389.7,306.7L385.0,307.1Z" fill="#9ebcda"/>
<path d="M433.8,300.9L437.6,300.0L442.6,299.2L443.5,302.6L441.8,307.6L441.0,312.6L436.0,312.6L431.8,312.6L432.1,310.1L432.6,305.1Z" fill="#8c96c6"/>
<path d="M442.6,299.2L443.5,296.7L446.8,297.5L451.8,300.9L456.8,300.0L459.4,299.2L457.7,305.1L457.7,310.9L459.4,313.4L456.0,318.4L453.5,321.8L449.3,317.6L444.3,314.2L441.0,312.6L441.8,307.6L443.5,302.6Z" fill="#bfd3e6"/>
<path d="M446.2,274.5L450.0,275.5L453.8,277.0L458.0,280.5L461.0,283.0L462.5,285.8L472.5,291.2L467.5,295.0L459.2,301.2L453.8,300.0L448.8,300.0L443.8,296.2L441.2,291.2L442.5,285.0L444.5,280.0Z" fill="#9ebcda"/>
<path d="M450.5,263.0L447.5,266.8L445.8,271.8L450.0,267.0L453.0,269.0L456.0,272.5L459.5,276.5L461.2,277.8L462.0,277.5L460.0,276.0L456.5,271.0L453.0,266.0L450.5,263.0Z" fill="#9ebcda"/>
<path d="M459.2,278.5L461.7,277.7L462.1,281.0L460.0,281.5Z" fill="#9ebcda"/>
<path d="M461.8,283.0L466.2,283.0L472.5,281.5L480.0,279.2L479.8,285.5L475.5,294.5L469.2,302.5L461.8,310.0L458.0,313.2L457.5,305.0L459.2,301.2L467.5,295.0L472.5,291.2L466.2,288.5L462.5,285.8Z" fill="#8c6bb1"/>
<path d="M431.5,313.4L434.3,313.1L434.8,315.4L432.1,316.4Z" fill="#9ebcda"/>
<path d="M431.8,316.8L434.3,316.4L434.3,320.1L432.1,320.9Z" fill="#8c96c6"/>
<path d="M436.0,312.6L441.0,312.6L444.3,314.2L449.3,317.6L453.5,321.8L452.7,327.6L454.3,331.8L455.2,337.6L450.2,339.3L445.2,340.1L441.8,339.3L439.3,335.1L435.1,332.6L432.6,328.4L431.0,323.4L431.8,318.4L432.6,315.9L434.8,315.4L434.3,313.1Z" fill="#8c96c6"/>
<path d="M428.4,336.8L429.3,332.6L433.5,331.0L435.1,332.6L439.3,335.1L440.1,337.6L439.3,342.6L436.8,346.0L432.6,348.5L429.3,351.0L425.1,353.5L420.9,354.3L415.9,356.0L413.4,354.3L412.6,350.2L413.4,344.3L417.1,343.5L417.6,339.3L419.3,338.5L422.6,340.1L426.8,341.0L430.1,344.3Z" fill="#9ebcda"/>
<path d="M441.8,339.3L445.2,340.1L450.2,339.3L455.2,337.6L456.0,343.5L455.2,348.5L451.8,353.5L446.8,357.7L442.6,361.9L441.0,365.2L442.6,368.5L441.8,373.6L437.6,375.1L435.1,376.7L434.3,371.7L433.5,368.4L436.8,362.5L437.6,355.8L438.5,358.5L437.6,353.5L433.5,350.2L432.6,348.5L436.8,346.0L439.3,342.6L441.0,343.5L441.5,348.5L442.6,351.8L444.3,348.5L443.1,344.3Z" fill="#8c96c6"/>
<path d="M439.3,335.1L441.8,339.3L443.1,344.3L444.3,348.5L442.6,351.8L441.5,348.5L441.0,343.5L440.1,337.6Z" fill="#9ebcda"/>
<path d="M425.1,353.5L429.3,351.0L432.6,348.5L433.5,350.2L437.6,353.5L438.5,358.5L437.6,355.8L436.8,362.5L433.5,367.5L428.4,366.7L425.1,363.4L422.6,359.2L420.9,355.0Z" fill="#9ebcda"/>
<path d="M410.9,356.3L415.9,356.3L420.9,355.0L422.6,359.2L426.8,364.2L433.5,368.4L428.4,370.9L424.3,372.6L420.1,376.7L415.1,375.9L411.7,379.2L409.2,380.1L408.4,368.4L410.1,361.7Z" fill="#bfd3e6"/>
<path d="M389.2,354.2L396.7,354.7L403.4,355.3L410.9,356.3L410.1,361.7L408.4,368.4L407.6,376.7L406.7,383.4L404.2,385.9L400.0,384.2L396.7,376.7L394.2,366.7L390.9,359.2Z" fill="#9ebcda"/>
<path d="M400.0,384.2L404.2,385.9L406.7,383.4L407.6,376.7L409.2,380.1L411.7,379.2L415.1,375.9L420.1,376.7L424.3,372.6L428.4,370.9L433.5,368.4L434.3,371.7L435.1,376.7L436.5,379.7L434.3,384.2L431.0,389.3L426.8,394.3L420.9,397.6L415.1,399.3L409.2,399.8L405.1,401.0L402.6,398.4L402.6,393.4L400.9,389.3Z" fill="#bfd3e6"/>
<path d="M422.6,386.8L426.4,384.2L428.4,386.8L424.8,390.1Z" fill="#bfd3e6"/>
<path d="M431.5,377.6L433.5,376.7L434.3,380.1L432.1,381.4Z" fill="#bfd3e6"/>
<path d="M461.9,363.5L463.5,356.8L466.0,351.8L471.0,349.3L473.6,345.2L475.6,341.8L477.7,346.0L477.7,351.8L475.2,358.5L472.7,366.9L469.4,374.4L466.0,376.9L462.7,375.2L461.0,369.4Z" fill="#9ebcda"/>
<path d="M414.4,131.6L420.9,133.5L428.5,135.4L433.2,138.2L432.2,141.1L427.5,141.1L423.8,142.4L425.6,144.8L430.4,143.5L434.1,141.1L437.9,138.2L435.0,138.8L440.0,136.2L447.5,135.0L455.0,136.2L462.5,132.5L471.2,131.2L473.8,127.5L478.8,127.0L480.0,131.2L483.8,130.0L486.2,133.8L488.8,140.0L490.0,136.2L487.5,130.0L485.0,126.2L492.5,125.0L498.8,122.5L505.0,120.0L512.5,118.8L517.5,117.5L525.0,115.5L532.5,116.2L537.5,120.0L540.0,123.8L547.5,123.0L555.0,123.8L565.0,125.0L572.5,127.5L577.5,130.0L582.5,128.0L590.0,127.0L600.0,128.0L600.0,127.5L612.5,129.5L625.0,131.2L635.0,133.0L645.0,133.0L648.8,134.5L655.0,131.2L662.5,133.0L670.0,137.5L677.5,143.8L686.2,149.5L682.5,150.5L676.2,153.0L671.2,154.5L665.5,156.2L667.5,161.2L672.5,165.0L675.0,171.2L675.0,177.5L671.2,173.8L666.2,168.8L661.2,163.8L658.8,160.0L661.2,153.8L658.8,150.0L656.2,151.2L652.5,152.5L648.8,155.0L646.2,156.2L640.0,157.5L632.5,158.0L626.2,158.8L623.8,166.2L630.0,169.5L637.5,170.5L641.2,173.8L645.0,180.0L646.2,187.5L646.2,192.5L643.8,197.5L640.0,198.0L637.5,195.5L637.0,190.0L636.2,185.0L631.2,186.2L625.0,182.5L617.5,176.2L610.0,173.0L600.0,171.2L617.5,176.2L610.0,172.5L605.0,171.2L600.0,172.5L598.8,177.5L601.2,182.5L605.0,186.2L600.0,184.5L598.8,181.2L593.8,180.0L585.0,181.2L577.5,180.0L570.0,178.8L562.5,177.5L557.5,175.0L552.5,178.0L545.0,178.8L539.2,182.5L533.8,180.0L528.8,178.0L522.5,176.2L516.2,172.5L510.0,168.8L505.0,170.5L497.5,169.5L490.0,167.5L482.5,171.2L480.0,176.2L470.0,175.0L461.2,176.2L457.5,180.0L458.0,183.8L460.0,187.5L460.5,191.2L460.5,198.5L456.7,198.1L452.9,197.7L449.2,197.0L445.4,193.8L442.6,190.9L440.7,189.1L443.5,186.2L443.2,181.5L437.9,178.7L432.2,175.9L425.6,174.9L422.8,175.9L425.6,172.1L422.8,166.5L415.3,165.5L416.2,160.8L415.3,157.1L416.2,153.3L419.1,149.5L417.2,145.8L414.4,141.1L412.5,136.4L413.4,132.6Z" fill="#e0ecf4"/>
<path d="M493.8,110.5L502.5,111.2L507.5,113.8L501.2,113.8L495.0,112.5ZM510.0,113.8L517.5,115.0L516.2,116.8L511.2,115.5ZM573.8,120.0L582.5,118.8L590.0,120.5L582.5,122.0L576.2,122.0ZM586.2,123.8L591.2,124.5L590.0,126.2L587.0,125.5ZM638.8,169.5L643.8,173.8L648.8,180.0L653.8,186.2L657.5,190.0L655.5,189.5L651.2,184.5L646.2,179.5L641.2,174.5Z" fill="#e0ecf4"/>
<path d="M449.2,197.0L452.9,197.7L456.7,198.1L460.5,198.5L463.3,200.4L465.2,204.1L462.4,206.0L460.5,206.0L458.6,202.2L454.8,200.0L451.1,200.4Z" fill="#e0ecf4"/>
<path d="M457.5,180.0L461.2,176.2L470.0,175.0L480.0,176.2L482.5,171.2L490.0,167.5L497.5,169.5L505.0,170.5L510.0,168.8L516.2,172.5L522.5,176.2L528.8,178.0L533.8,180.0L539.2,182.5L537.5,186.2L533.8,188.8L531.2,193.8L530.0,197.5L522.5,198.0L516.2,198.8L512.5,201.2L509.5,203.8L505.0,202.0L502.5,198.8L496.2,196.2L488.8,195.5L483.8,192.0L479.5,192.5L478.8,196.2L480.0,200.0L476.2,201.2L471.2,198.8L470.0,193.8L467.5,191.2L471.2,188.8L467.5,187.5L462.5,190.0L460.0,187.5L458.0,183.8Z" fill="#bfd3e6"/>
<path d="M478.5,193.0L483.0,191.5L486.5,193.0L490.0,195.0L496.0,196.0L501.0,198.0L504.0,201.5L507.5,204.0L510.0,201.5L512.0,199.5L513.0,202.2L517.0,202.5L518.0,204.0L514.0,205.5L510.0,206.5L508.5,205.5L507.5,206.5L509.0,210.0L508.5,212.2L506.0,210.5L503.0,207.0L499.0,204.5L494.0,202.5L490.0,199.0L486.0,198.5L483.0,201.5L480.0,201.0L479.5,196.5Z" fill="#9ebcda"/>
<path d="M476.0,201.5L480.0,201.0L483.0,201.5L486.0,198.5L490.0,199.0L494.0,202.5L499.0,204.5L503.0,207.0L506.0,210.5L508.5,212.2L509.5,213.0L506.0,212.5L503.0,213.5L502.0,215.5L499.0,217.5L495.5,219.0L493.0,215.0L489.0,212.0L484.0,210.0L479.0,212.0L477.5,209.0L476.0,205.0L474.5,202.5Z" fill="#bfd3e6"/>
<path d="M508.5,203.5L510.0,201.5L512.0,199.5L514.0,198.0L520.0,197.5L526.0,197.2L531.0,198.0L530.0,200.0L527.0,201.5L524.0,203.5L521.0,204.5L518.0,204.2L518.0,204.0L517.0,202.5L513.0,202.2L511.0,204.5Z" fill="#bfd3e6"/>
<path d="M508.5,205.5L510.0,206.5L514.0,205.5L518.0,204.2L521.0,206.5L524.0,209.0L524.5,212.0L524.0,212.5L520.0,213.0L516.5,213.5L516.0,211.0L514.5,210.0L512.0,211.5L509.5,213.0L509.0,210.0L507.5,206.5Z" fill="#bfd3e6"/>
<path d="M459.2,213.4L461.7,209.2L467.6,210.0L470.1,212.5L473.4,213.4L478.4,210.9L483.4,211.7L490.1,214.2L496.0,218.4L496.8,225.1L498.5,230.9L502.6,236.8L503.5,240.1L501.0,244.3L496.8,243.4L491.8,242.6L490.1,240.9L487.6,240.1L483.4,241.8L479.3,239.3L475.1,235.1L471.7,232.6L469.2,231.8L467.6,228.4L464.2,223.4L461.7,217.6Z" fill="#e0ecf4"/>
<path d="M495.5,219.0L499.0,217.5L502.0,215.5L503.0,213.5L506.0,212.5L509.5,213.0L512.0,211.5L514.5,210.0L516.0,211.0L516.5,213.5L520.0,213.0L524.0,212.5L525.5,214.0L522.0,214.5L519.0,216.0L518.5,218.5L518.0,221.0L516.5,223.0L515.5,226.0L513.0,228.0L511.0,230.5L508.0,232.0L503.0,233.0L499.0,232.5L498.0,229.5L497.5,226.0L496.2,223.0Z" fill="#8c96c6"/>
<path d="M499.0,232.5L503.0,233.0L508.0,232.0L511.0,230.5L513.0,228.0L515.5,226.0L516.5,223.0L518.0,221.0L518.5,218.5L519.0,216.0L522.0,214.5L525.5,214.0L527.5,216.0L530.0,217.5L531.0,219.0L528.5,219.5L526.0,220.0L524.5,222.5L526.0,225.0L527.5,227.0L527.0,230.0L525.5,233.0L524.0,235.5L522.0,238.0L520.0,240.0L520.2,242.6L522.7,246.0L516.8,247.6L514.3,244.3L508.5,243.4L501.0,244.3L503.5,240.1L502.6,236.8Z" fill="#9ebcda"/>
<path d="M448.4,222.6L451.7,215.9L455.0,212.5L459.2,213.4L461.7,217.6L464.2,223.4L467.6,228.4L469.2,231.8L466.7,234.3L463.4,233.8L458.4,230.1L453.4,227.6L449.2,225.1Z" fill="#9ebcda"/>
<path d="M440.8,216.7L445.0,214.7L451.7,213.4L455.0,212.5L451.7,215.9L448.4,222.6L445.0,224.2L441.7,223.4L441.0,220.1Z" fill="#bfd3e6"/>
<path d="M441.7,223.4L445.0,224.2L448.4,222.6L449.2,225.1L445.8,232.0L444.0,233.5L441.5,235.0L440.5,236.5L440.0,234.0Z" fill="#bfd3e6"/>
<path d="M440.0,220.1L441.0,220.1L441.7,223.4L440.0,234.0L440.3,236.0L439.6,234.0L439.2,232.0Z" fill="#bfd3e6"/>
<path d="M440.5,236.5L441.5,235.0L444.0,233.5L445.8,232.0L449.2,225.1L453.4,227.6L458.4,230.1L463.4,233.8L466.7,234.3L470.1,236.8L473.4,241.8L477.6,246.0L480.1,248.5L487.6,250.1L488.4,254.3L486.8,258.5L481.8,261.0L481.5,260.5L476.0,261.0L472.0,262.5L468.0,264.5L464.0,264.0L460.5,266.0L458.0,263.0L454.5,259.0L451.0,253.0L448.0,247.0L444.0,241.0Z" fill="#bfd3e6"/>
<path d="M466.7,234.3L469.2,232.6L470.1,235.9Z" fill="#bfd3e6"/>
<path d="M478.1,244.3L479.3,242.6L480.1,245.1L478.8,246.8Z" fill="#e0ecf4"/>
<path d="M460.5,266.0L464.0,264.0L468.0,264.5L472.0,262.5L476.0,261.0L481.5,260.5L484.0,266.5L480.0,269.0L474.0,272.0L468.0,274.5L462.0,276.7L461.0,270.0Z" fill="#8c96c6"/>
<path d="M481.5,260.5L486.0,258.5L488.0,255.0L489.0,252.0L488.5,249.0L489.5,246.0L490.0,242.8L492.0,246.0L496.0,249.5L498.0,252.0L495.0,257.0L492.0,261.0L489.0,264.0L484.0,266.5Z" fill="#bfd3e6"/>
<path d="M480.1,248.5L484.3,247.6L488.4,244.3L489.8,242.6L490.1,246.8L491.0,251.8L488.4,254.3L487.6,250.1Z" fill="#e0ecf4"/>
<path d="M539.2,182.5L545.0,178.8L552.5,178.0L557.5,175.0L562.5,177.5L570.0,178.8L577.5,180.0L585.0,181.2L593.8,180.0L598.8,181.2L600.0,184.5L605.0,186.2L607.5,187.5L602.5,190.0L597.5,191.2L593.8,195.0L590.0,198.8L583.8,201.2L577.5,200.0L570.0,198.8L562.5,196.2L555.0,193.8L550.0,190.0L543.8,186.2Z" fill="#bfd3e6"/>
<path d="M530.0,197.5L531.2,193.8L533.8,188.8L537.5,186.2L539.2,182.5L543.8,186.2L550.0,190.0L555.0,193.8L562.5,196.2L570.0,198.8L577.5,200.0L583.8,201.2L590.0,198.8L593.8,195.0L597.5,191.2L602.5,190.0L607.5,187.5L605.0,186.2L601.2,182.5L598.8,177.5L600.0,172.5L605.0,171.2L610.0,172.5L617.5,176.2L617.5,176.2L625.0,182.5L631.2,186.2L636.2,185.0L637.0,190.0L637.5,195.5L637.5,198.8L632.5,201.2L628.8,203.8L625.0,207.5L621.2,205.0L618.8,203.8L615.0,207.5L617.5,211.2L622.5,210.0L625.0,212.0L623.0,215.0L625.0,220.0L628.8,225.0L632.0,230.0L633.8,235.0L632.1,229.1L632.6,232.6L633.2,236.8L631.5,241.5L629.1,245.6L625.6,248.5L620.9,250.3L616.2,252.6L612.6,253.8L613.2,255.6L610.3,254.4L606.8,253.2L603.8,252.1L602.6,250.3L600.3,249.1L597.4,249.7L594.4,251.5L592.6,252.1L590.9,254.4L588.5,252.1L585.0,247.9L583.2,245.0L583.8,240.9L582.6,237.4L579.7,236.2L576.2,233.2L571.5,234.4L566.8,236.8L561.5,237.4L559.7,236.8L555.0,236.2L552.5,233.8L545.0,230.0L541.2,231.2L535.0,223.8L530.0,217.5L526.2,213.0L525.0,208.8L521.2,205.0L526.2,202.5L531.2,200.0Z" fill="#f7fcfd"/>
<path d="M609.4,259.1L612.1,257.6L614.8,259.1L613.2,261.8L610.3,262.1Z" fill="#f7fcfd"/>
<path d="M633.6,246.2L635.6,243.8L637.0,245.6L636.8,249.7L635.4,252.6L633.8,250.3Z" fill="#e0ecf4"/>
<path d="M628.8,203.8L632.5,201.2L637.5,198.8L638.8,201.2L636.2,205.0L635.0,210.0L631.2,211.2L629.5,207.5Z" fill="#e0ecf4"/>
<path d="M635.0,210.0L638.8,211.2L642.5,215.0L643.8,218.8L640.0,220.5L637.5,217.5L635.8,213.8L631.2,211.2Z" fill="#f7fcfd"/>
<path d="M656.2,193.8L660.0,192.5L666.2,195.0L665.5,198.0L661.2,199.5L658.8,201.2L656.2,198.8ZM660.0,202.5L663.8,205.0L666.2,210.0L668.0,215.0L666.2,218.8L661.2,220.0L656.2,220.5L651.2,222.5L647.5,224.5L648.8,221.2L653.8,218.8L658.8,216.2L660.0,211.2L659.5,206.2ZM646.2,225.0L650.0,224.0L652.5,226.2L651.2,229.0L648.0,228.0ZM653.8,222.0L658.0,221.5L657.0,223.8L653.8,224.0Z" fill="#e0ecf4"/>
<path d="M531.0,217.6L527.7,219.2L525.2,222.6L526.9,226.7L526.9,230.9L524.4,235.1L521.9,238.4L520.2,242.6L522.7,246.0L516.8,247.6L518.5,251.0L522.7,253.5L525.2,251.8L526.9,256.0L528.5,261.8L531.0,268.5L534.4,276.9L538.6,285.2L541.9,288.6L544.4,285.2L546.1,278.5L547.8,271.8L550.3,266.8L555.3,261.8L559.4,257.6L563.6,253.5L563.8,250.9L562.6,247.4L561.5,244.4L560.9,242.1L563.2,243.2L566.8,244.4L570.3,245.0L569.7,247.4L570.9,250.3L572.1,252.6L572.6,249.7L574.4,246.2L576.2,241.5L577.9,238.5L579.7,236.2L576.2,233.2L571.5,234.4L568.5,238.5L566.8,240.3L562.1,239.9L560.5,240.0L552.5,238.8L545.0,236.2L541.2,233.8L541.2,231.2L535.0,223.8L530.0,217.5Z" fill="#e0ecf4"/>
<path d="M541.2,231.2L545.0,230.0L552.5,233.8L561.2,237.0L560.5,240.0L552.5,238.8L545.0,236.2L541.2,233.8Z" fill="#e0ecf4"/>
<path d="M561.5,237.4L566.8,236.8L568.5,238.5L566.8,240.3L562.1,239.9Z" fill="#e0ecf4"/>
<path d="M547.0,285.0L549.5,283.8L551.5,288.8L550.0,293.8L547.0,293.0L546.0,288.8Z" fill="#e0ecf4"/>
<path d="M560.9,242.1L563.2,243.2L566.8,244.4L570.3,245.0L569.7,247.4L570.9,250.3L569.7,251.5L567.9,249.7L566.2,251.5L563.8,250.9L562.6,247.4L561.5,244.4Z" fill="#bfd3e6"/>
<path d="M579.7,236.2L582.6,237.4L583.8,240.9L583.2,245.0L585.0,247.9L588.5,252.1L590.9,254.4L589.1,256.2L586.2,257.9L584.4,260.9L585.0,264.4L586.8,267.9L587.9,271.5L589.1,276.2L590.3,280.9L589.7,285.0L588.5,280.9L586.8,275.0L585.0,269.7L583.8,265.6L581.5,269.1L579.1,268.5L577.4,264.4L575.6,259.7L573.2,255.6L572.1,252.6L572.6,249.7L574.4,246.2L576.2,241.5L577.9,238.5Z" fill="#bfd3e6"/>
<path d="M584.4,260.9L586.2,257.9L589.1,256.2L590.9,254.4L592.1,257.9L593.2,262.1L595.6,262.6L599.7,261.5L602.1,264.4L603.2,267.4L603.8,271.5L601.5,272.6L598.5,273.8L597.4,276.2L594.4,276.2L592.6,274.4L591.5,277.4L592.6,282.1L593.8,290.0L596.2,293.8L593.8,295.0L591.2,290.0L590.0,285.0L590.3,280.9L589.1,276.2L587.9,271.5L586.8,267.9L585.0,264.4Z" fill="#e0ecf4"/>
<path d="M590.9,254.4L592.6,252.1L594.4,251.5L595.6,253.8L597.9,255.0L600.3,255.6L599.7,257.9L602.1,260.3L604.4,263.2L606.8,266.8L608.5,270.3L608.5,272.6L605.6,273.2L603.8,271.5L603.2,267.4L602.1,264.4L599.7,261.5L595.6,262.6L593.2,262.1L592.1,257.9Z" fill="#bfd3e6"/>
<path d="M594.4,251.5L597.4,249.7L600.3,249.1L602.6,250.3L603.8,252.1L606.8,253.2L604.4,255.6L602.6,257.9L603.2,260.9L605.6,263.2L608.5,266.8L610.9,270.3L612.6,273.8L613.2,277.4L611.5,280.9L608.5,283.2L605.6,285.0L603.8,283.8L606.8,281.5L609.1,278.5L609.7,275.0L608.5,272.6L608.5,270.3L606.8,266.8L604.4,263.2L602.1,260.3L599.7,257.9L600.3,255.6L597.9,255.0L595.6,253.8Z" fill="#e0ecf4"/>
<path d="M597.4,276.2L598.5,273.8L601.5,272.6L603.8,271.5L605.6,273.2L608.5,272.6L609.7,275.0L609.1,278.5L606.8,281.5L603.8,282.6L600.9,281.5L598.5,279.1Z" fill="#bfd3e6"/>
<path d="M593.8,295.0L596.2,293.8L600.0,297.5L602.5,302.5L603.8,307.0L600.0,305.0L596.2,300.0Z" fill="#e0ecf4"/>
<path d="M636.5,263.0L638.5,261.5L641.0,262.0L642.0,265.0L641.5,268.5L641.0,271.5L643.0,273.5L645.5,274.0L646.5,275.5L648.5,277.5L650.0,278.0L650.5,280.0L649.0,279.0L647.0,277.5L644.5,275.5L642.0,275.0L640.5,276.0L641.0,277.5L639.5,276.5L638.5,274.0L637.0,271.0L636.2,267.5ZM642.5,279.5L644.5,280.0L646.0,281.5L648.5,281.0L650.0,279.5L651.0,281.0L649.5,283.5L648.0,282.5L646.5,284.0L645.5,286.0L644.5,284.0L643.5,281.5ZM643.5,290.5L645.5,289.0L648.0,288.0L649.5,286.5L651.0,285.0L653.0,286.0L654.0,288.5L654.0,291.5L653.0,294.0L651.5,295.5L649.5,294.0L648.5,292.0L648.0,290.0L646.0,290.5L644.5,291.5ZM632.2,288.5L634.5,285.0L636.5,281.5L637.5,280.5L637.0,282.5L635.0,285.5L633.0,288.5Z" fill="#e0ecf4"/>
<path d="M582.5,297.0L586.2,296.2L592.5,302.5L600.0,310.0L606.2,317.5L607.5,323.8L606.2,326.2L601.2,322.5L595.0,315.0L588.8,306.2L584.5,300.0ZM606.2,326.2L611.2,325.8L618.8,327.5L625.0,329.5L628.0,332.0L623.8,332.5L616.2,330.5L608.8,328.8ZM631.2,331.8L636.2,331.2L637.0,333.0L632.0,333.5ZM638.8,332.0L645.0,331.2L645.5,333.0L639.5,333.8ZM647.5,333.8L655.0,332.0L655.5,333.8L648.8,336.2ZM614.5,307.5L618.8,303.8L625.0,298.8L630.0,294.5L633.8,293.0L637.0,297.0L633.8,300.0L637.0,303.8L635.5,310.0L633.0,315.0L630.0,320.0L625.0,319.5L620.0,317.5L616.2,313.8ZM637.5,310.0L640.0,307.5L647.5,307.5L651.2,306.2L650.5,308.8L645.0,310.0L642.5,312.5L646.2,315.0L645.0,317.5L642.5,316.2L643.8,322.5L641.2,323.8L640.0,318.8L638.0,322.5L637.0,317.5ZM657.0,305.0L658.8,304.5L659.5,310.0L657.5,311.2ZM653.8,318.8L660.0,317.5L663.8,318.8L660.0,320.0ZM670.0,322.5L672.5,322.0L673.0,326.2L671.5,327.5ZM665.0,312.5L670.0,311.2L673.8,315.0L678.8,316.2L683.8,314.5L687.0,316.2L687.0,332.5L682.5,331.2L678.8,325.0L673.8,321.2L670.0,317.5L666.2,316.2Z" fill="#bfd3e6"/>
<path d="M616.2,307.0L620.0,303.8L625.0,299.5L630.0,294.5L633.8,293.0L637.0,297.0L633.8,300.0L631.2,298.8L627.5,302.5L622.5,306.2L618.8,308.0Z" fill="#e0ecf4"/>
<path d="M687.0,316.2L693.8,318.8L700.0,322.5L703.8,327.5L706.2,332.5L708.8,337.0L703.8,335.0L698.8,331.2L692.5,332.0L687.0,332.5ZM705.0,323.8L711.2,322.5L714.5,317.5L715.5,319.5L712.5,324.5L706.2,325.5Z" fill="#bfd3e6"/>
<path d="M720.0,323.8L723.8,326.2L723.0,327.5L719.5,325.0ZM725.5,328.8L730.0,332.5L729.0,333.8L725.0,330.0Z" fill="#bfd3e6"/>
<path d="M615.0,400.0L614.5,396.2L617.5,392.5L617.0,385.0L618.0,377.5L620.0,368.8L625.0,365.0L632.5,362.5L638.8,358.8L643.8,353.8L650.0,348.8L656.2,346.2L660.0,342.5L665.0,339.5L671.2,341.2L675.0,342.0L672.5,347.5L677.5,352.5L682.5,356.2L686.2,350.0L687.5,342.5L689.5,338.2L692.0,343.8L694.5,350.0L696.2,358.8L700.0,365.0L703.8,371.2L706.2,377.5L705.0,385.0L701.2,392.5L696.2,398.8L691.2,403.8L686.2,407.5L680.0,410.0L675.0,412.0L668.8,411.2L664.5,408.8L663.8,403.8L665.5,397.5L661.2,400.0L658.8,397.5L653.8,393.8L646.2,392.5L638.8,395.0L631.2,397.5L623.8,398.8L618.8,401.2ZM667.5,418.0L672.5,416.2L676.2,417.0L674.5,421.2L670.0,423.8L667.5,422.0Z" fill="#e0ecf4"/>
<path d="M732.0,417.0L736.2,412.5L739.5,408.8L738.8,401.2L740.5,400.0L742.0,406.2L746.2,408.8L742.5,412.5L737.5,416.2L733.8,418.2ZM705.5,429.5L711.2,425.5L718.8,422.0L725.0,418.0L730.0,416.2L729.5,419.5L723.8,423.8L716.2,428.0L710.0,431.2L706.2,431.2Z" fill="#e0ecf4"/>
<path d="M734.5,362.5L736.2,362.0L740.0,367.0L738.8,368.0Z" fill="#e0ecf4"/>
<path d="M743.8,348.0L745.0,348.8L745.0,353.0L744.0,352.5Z" fill="#bfd3e6"/>
<path d="M766.2,355.5L770.0,353.8L773.8,352.0L772.5,354.5L768.0,357.5Z" fill="#bfd3e6"/>
<path d="M727.5,328.8L731.2,332.0L730.0,333.0L727.0,330.0ZM730.0,333.8L735.0,337.0L733.8,338.0L730.0,335.0Z" fill="#bfd3e6"/>
<path d="M2.0,252.0L3.5,251.8L3.2,253.0ZM5.0,253.0L7.0,253.4L10.0,255.5L9.5,256.6L6.5,255.0ZM9.5,257.5L11.6,257.6L12.2,260.0L10.2,261.2L9.0,259.0Z" fill="#e0ecf4"/>
<path d="M500.5,436.6L503.0,435.4L505.0,437.0L502.2,438.6Z" fill="#ffffff"/>
<path d="M492.7,362.0L494.0,362.0L494.0,363.2L492.8,363.2Z" fill="#e0ecf4"/>
<path d="M489.9,322.0L490.8,322.0L490.8,322.8L489.9,322.8Z" fill="#bfd3e6"/>
<path d="M532.2,299.5L533.0,299.5L533.0,301.0L532.2,301.0Z" fill="#e0ecf4"/>
<path d="M461.0,340.2L462.6,340.4L463.0,341.4L461.4,341.4Z" fill="#9ebcda"/>
<path d="M305.5,265.5L307.0,265.3L307.0,266.6L305.6,266.6Z" fill="#bfd3e6"/>
<path d="M460.0,191.2L463.8,188.8L470.0,188.2L472.5,191.2L468.8,193.8L470.0,198.8L473.8,201.2L476.2,203.8L475.0,207.5L477.5,211.2L476.2,213.8L471.2,213.0L467.5,210.0L466.2,205.0L462.5,201.2L463.8,196.2L460.5,193.8Z" fill="#ffffff"/>
<path d="M198.0,283.5L199.0,282.8L199.5,284.5L198.5,285.5Z" fill="#ffffff"/>
</g>
<g id="borders" stroke="#76828e" stroke-width="0.45" stroke-linejoin="round">
<path d="M404.1,198.2L404.7,201.2L404.1,203.5" fill="none"/>
<path d="M405.9,199.4L406.5,201.2L404.7,201.2" fill="none"/>
<path d="M406.5,201.2L409.4,201.8L410.6,202.4" fill="none"/>
<path d="M454.8,200.0L457.6,200.4L460.5,198.5" fill="none"/>
<path d="M454.8,200.0L457.6,203.2L460.5,206.0" fill="none"/>
</g>
<g id="legend">
<rect x="115.5" y="497.3" width="47" height="10.5" fill="url(#hatch)" stroke="#c4c4c4" stroke-width="0.8"/>
<line x1="139" y1="494.4" x2="139" y2="497.3" stroke="#c4c4c4" stroke-width="0.8"/>
<text class="lab" x="139" y="489.8">No data</text>
<rect x="182.5" y="497" width="69" height="11" fill="#f7fcfd"/>
<rect x="251.5" y="497" width="69" height="11" fill="#e0ecf4"/>
<rect x="320.5" y="497" width="69" height="11" fill="#bfd3e6"/>
<rect x="389.5" y="497" width="69" height="11" fill="#9ebcda"/>
<rect x="458.5" y="497" width="69" height="11" fill="#8c96c6"/>
<rect x="527.5" y="497" width="69" height="11" fill="#8c6bb1"/>
<rect x="596.5" y="497" width="69" height="11" fill="#88419d"/>
<path d="M665.5,497H730L735,502.5L730,508H665.5Z" fill="#6e016b"/>
<path d="M182.5,497H665.5M182.5,508H665.5" stroke="#c8c8c8" stroke-width="0.8" fill="none"/>
<g stroke="#b8b8b8" stroke-width="0.8">
<line x1="182.5" y1="480" x2="182.5" y2="508"/>
<line x1="251.5" y1="494" x2="251.5" y2="508"/>
<line x1="320.5" y1="480" x2="320.5" y2="508"/>
<line x1="389.5" y1="494" x2="389.5" y2="508"/>
<line x1="458.5" y1="480" x2="458.5" y2="508"/>
<line x1="527.5" y1="494" x2="527.5" y2="508"/>
<line x1="596.5" y1="480" x2="596.5" y2="508"/>
<line x1="665.5" y1="494" x2="665.5" y2="508"/>
</g>
<text class="lab" x="182.5" y="474.9">0 children</text>
<text class="lab" x="251.5" y="489.8">1 children</text>
<text class="lab" x="320.5" y="474.9">2 children</text>
<text class="lab" x="389.5" y="489.8">3 children</text>
<text class="lab" x="458.5" y="474.9">4 children</text>
<text class="lab" x="527.5" y="489.8">5 children</text>
<text class="lab" x="596.5" y="474.9">6 children</text>
<text class="lab" x="665.5" y="489.8">7 children</text>
</g>
</svg>

<div class="abs foot" style="top:528.7px;letter-spacing:-0.09px"><b style="letter-spacing:-0.45px">Data source:</b> Malani and Jacob (2024); UN, World Population Prospects (2024); Human Mortality Database (2025)</div>
<div class="abs foot" style="top:548.7px;letter-spacing:-0.19px"><b>Note:</b> Childbearing age is defined by the authors as 15–49 years old, and the average survival across the age range is used.</div>
<div class="abs foot" style="top:568.7px;letter-spacing:0.08px">OurWorldinData.org/fertility-rate | CC BY</div>
</body>
</html>
